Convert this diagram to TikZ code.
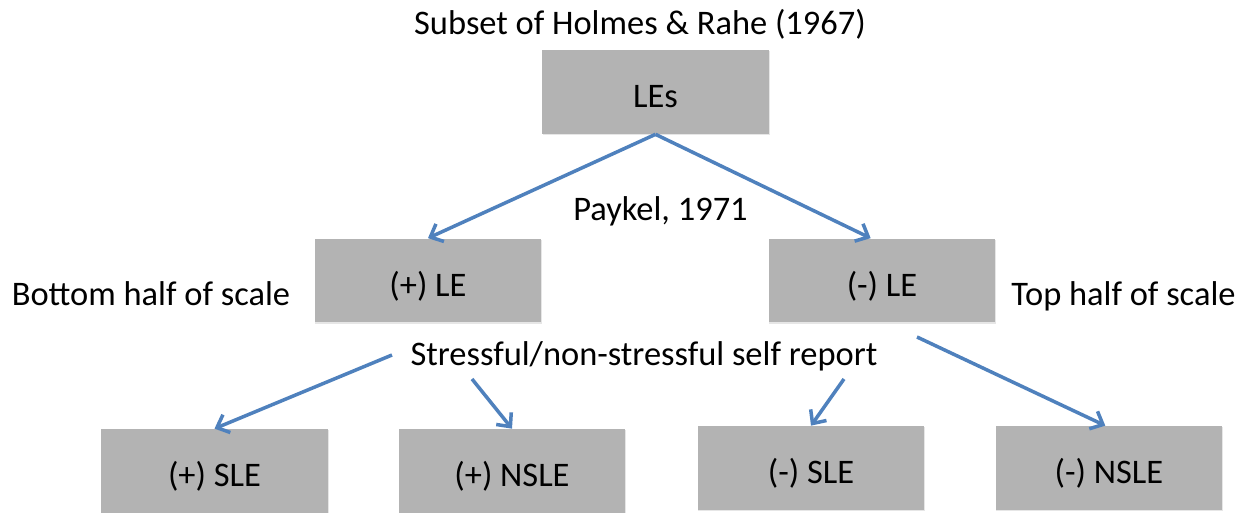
\documentclass[tikz,border=0pt]{standalone}
\usepackage{fontspec}
\setmainfont{Carlito}
\usetikzlibrary{arrows.meta,shadows}
\definecolor{boxgray}{HTML}{B3B3B3}
\definecolor{arrowblue}{HTML}{4F81BD}
\tikzset{
  lebox/.style={fill=boxgray, minimum width=4.54cm, minimum height=1.68cm, inner sep=0pt,
    text height=0.64cm, text depth=0pt, font=\fontsize{19.6}{23}\selectfont,
    drop shadow={shadow xshift=0.4pt, shadow yshift=-0.8pt, opacity=0.2}},
  lbl/.style={font=\fontsize{19.6}{23}\selectfont, inner sep=0pt, anchor=base},
  branch/.style={draw=arrowblue, line width=2pt, -{Straight Barb[length=6pt,width=11pt]}}
}

\begin{document}
\begin{tikzpicture}[x=0.02cm,y=-0.02cm]
\useasboundingbox (0,0) rectangle (1259,513);
        \node[lbl] (title) at (640,35) {Subset of Holmes \& Rahe (1967)};
        \node[lebox] (les) at (655.5,92) {LEs};
        \node[lbl] (paykel) at (660.5,221) {Paykel, 1971};
        \node[lebox] (plusle) at (428,280.5) {(+) LE};
        \node[lebox] (minusle) at (882,280.5) {(-) LE};
        \node[lbl] (bottomhalf) at (151,306) {Bottom half of scale};
        \node[lbl] (tophalf) at (1123.5,306) {Top half of scale};
        \node[lbl] (selfrep) at (644,366) {Stressful/non-stressful self report};
        \node[lebox] (plussle) at (214.5,471) {(+) SLE};
        \node[lebox] (plusnsle) at (512,471) {(+) NSLE};
        \node[lebox] (minussle) at (811,468) {(-) SLE};
        \node[lebox] (minusnsle) at (1109,468) {(-) NSLE};
        \coordinate (s1) at (392,355);
        \coordinate (s2) at (472,379);
        \coordinate (s3) at (844,379);
        \coordinate (s4) at (917,337);
\draw[branch] (les.south) -- (plusle.north);
\draw[branch] (les.south) -- (minusle.105);
\draw[branch] (s1) -- (plussle.north);
\draw[branch] (s2) -- (plusnsle.north);
\draw[branch] (s3) -- (minussle.north);
\draw[branch] (s4) -- (minusnsle.95);
           \end{tikzpicture}
\end{document}
